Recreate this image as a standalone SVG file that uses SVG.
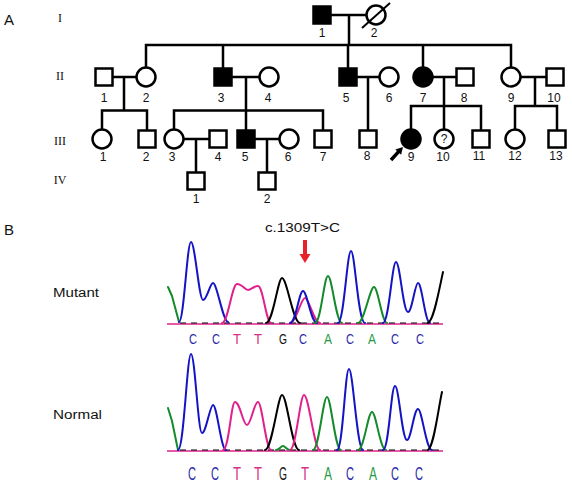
<svg xmlns="http://www.w3.org/2000/svg" width="572" height="485" viewBox="0 0 572 485">
<style>
.ln{stroke:#000;stroke-width:2.5;fill:none;stroke-linecap:square}
.o{fill:#fff;stroke:#000;stroke-width:2.5}
.f{fill:#000;stroke:#000;stroke-width:2.5}
.num{font-family:"Liberation Sans",Arial,sans-serif;font-size:12px;text-anchor:middle;fill:#111}
.rom{font-family:"Liberation Serif","Times New Roman",serif;font-size:12px;text-anchor:middle;fill:#111}
.lab{font-family:"Liberation Sans",Arial,sans-serif;font-size:15px;fill:#111}
.txt{font-family:"Liberation Sans",Arial,sans-serif;font-size:12px;fill:#111}
.tr{fill:none;stroke-width:2;stroke-linejoin:round;stroke-linecap:round}
.bl{stroke:#1414c4}.gr{stroke:#148a2a}.pk{stroke:#e0208c}.bk{stroke:#000}
.bs{font-family:"Liberation Sans",Arial,sans-serif;text-anchor:middle}
.cB{fill:#2a2aaa}.cT{fill:#d83088}.cG{fill:#111}.cA{fill:#1f9a44}
</style>

<text class="lab" x="4" y="25">A</text>
<text class="lab" x="4" y="235">B</text>
<text class="rom" x="60" y="22">I</text>
<text class="rom" x="60" y="80">II</text>
<text class="rom" x="60" y="145">III</text>
<text class="rom" x="60" y="184">IV</text>

<g id="connectors">
<path class="ln" d="M330.5 15H366.5M349 15V45M146 45H511M146 45V67.5M223 45V68.5M348 45V68.5M423 45V67.5M511 45V67.5"/>
<path class="ln" d="M112.5 77H136.5M124 77V110.5M102 110.5H147M102 110.5V129.5M147 110.5V130.5"/>
<path class="ln" d="M231.5 77H259.5M246 77V110.5M174 110.5H323M174 110.5V129.5M246 110.5V130.5M323 110.5V130.5"/>
<path class="ln" d="M356.5 77H379.5M368 77V130.5"/>
<path class="ln" d="M432.5 77H456.5M444 77V106M411 106H481M411 106V129.5M444 106V129.5M481 106V130.5"/>
<path class="ln" d="M520.5 77H546.5M535 77V106M515 106H557M515 106V129.5M557 106V130.5"/>
<path class="ln" d="M183.5 139H209.5M196 139V172.5M254.5 139H279.5M267 139V172.5"/>
</g>

<g id="I-1"><rect class="f" x="313.5" y="6.5" width="17" height="17"/><text class="num" x="322" y="37">1</text></g>
<g id="I-2"><circle class="o" cx="376" cy="15" r="9.5"/><line x1="362" y1="28" x2="390" y2="3" stroke="#000" stroke-width="2"/><text class="num" x="374" y="37">2</text></g>

<g id="II-1"><rect class="o" x="95.5" y="68.5" width="17" height="17"/><text class="num" x="104" y="102">1</text></g>
<g id="II-2"><circle class="o" cx="146" cy="77" r="9.5"/><text class="num" x="146" y="102">2</text></g>
<g id="II-3"><rect class="f" x="214.5" y="68.5" width="17" height="17"/><text class="num" x="221" y="102">3</text></g>
<g id="II-4"><circle class="o" cx="269" cy="77" r="9.5"/><text class="num" x="268" y="102">4</text></g>
<g id="II-5"><rect class="f" x="339.5" y="68.5" width="17" height="17"/><text class="num" x="346" y="102">5</text></g>
<g id="II-6"><circle class="o" cx="389" cy="77" r="9.5"/><text class="num" x="389" y="102">6</text></g>
<g id="II-7"><circle class="f" cx="423" cy="77" r="9.5"/><text class="num" x="423" y="102">7</text></g>
<g id="II-8"><rect class="o" x="456.5" y="68.5" width="17" height="17"/><text class="num" x="464" y="102">8</text></g>
<g id="II-9"><circle class="o" cx="511" cy="77" r="9.5"/><text class="num" x="511" y="102">9</text></g>
<g id="II-10"><rect class="o" x="546.5" y="68.5" width="17" height="17"/><text class="num" x="554" y="102">10</text></g>

<g id="III-1"><circle class="o" cx="102" cy="139" r="9.5"/><text class="num" x="103" y="161">1</text></g>
<g id="III-2"><rect class="o" x="138.5" y="130.5" width="17" height="17"/><text class="num" x="146" y="161">2</text></g>
<g id="III-3"><circle class="o" cx="174" cy="139" r="9.5"/><text class="num" x="172" y="161">3</text></g>
<g id="III-4"><rect class="o" x="209.5" y="130.5" width="17" height="17"/><text class="num" x="218" y="161">4</text></g>
<g id="III-5"><rect class="f" x="237.5" y="130.5" width="17" height="17"/><text class="num" x="245" y="161">5</text></g>
<g id="III-6"><circle class="o" cx="289" cy="139" r="9.5"/><text class="num" x="288" y="161">6</text></g>
<g id="III-7"><rect class="o" x="314.5" y="130.5" width="17" height="17"/><text class="num" x="323" y="161">7</text></g>
<g id="III-8"><rect class="o" x="359.5" y="130.5" width="17" height="17"/><text class="num" x="367" y="160">8</text></g>
<g id="III-9"><circle class="f" cx="411" cy="139" r="9.5"/><text class="num" x="411" y="161">9</text>
<polygon points="403,147 401.1,154.8 399.5,153.3 392.3,161.2 389.7,158.8 396.9,150.9 395.3,149.4" fill="#000"/></g>
<g id="III-10"><circle class="o" cx="444" cy="139" r="9.5"/><text class="num" x="444" y="143" font-size="11">?</text><text class="num" x="443" y="161">10</text></g>
<g id="III-11"><rect class="o" x="472.5" y="130.5" width="17" height="17"/><text class="num" x="479" y="160">11</text></g>
<g id="III-12"><circle class="o" cx="515" cy="139" r="9.5"/><text class="num" x="515" y="160">12</text></g>
<g id="III-13"><rect class="o" x="548.5" y="130.5" width="17" height="17"/><text class="num" x="556" y="160">13</text></g>

<g id="IV-1"><rect class="o" x="187.5" y="172.5" width="17" height="17"/><text class="num" x="196" y="203">1</text></g>
<g id="IV-2"><rect class="o" x="258.5" y="172.5" width="17" height="17"/><text class="num" x="267" y="203">2</text></g>

<text class="txt" x="265" y="232" textLength="75" lengthAdjust="spacingAndGlyphs">c.1309T&gt;C</text>
<path d="M303 240H307V254H310.5L305 263L299.5 254H303Z" fill="#e8202a"/>

<text class="txt" x="53" y="297" font-size="12.5" textLength="46" lengthAdjust="spacingAndGlyphs">Mutant</text>
<text class="txt" x="53" y="419" font-size="13" textLength="49" lengthAdjust="spacingAndGlyphs">Normal</text>

<g id="mutant-trace">
<line x1="167" y1="324" x2="443" y2="324" stroke="#e0208c" stroke-width="1.6"/>
<line x1="180" y1="323" x2="440" y2="323" stroke="#000" stroke-width="1" stroke-dasharray="6 5"/>
<path class="tr gr" d="M168 287L172 296L179 322"/>
<path class="tr bl" d="M179 322C184 322 187 242 191 242C195 242 199 300 203 300C207 300 210 283 213 283C217 283 223 322 228 322"/>
<path class="tr pk" d="M222 323C228 323 232 284 237 284C242 284 245 290 248 290C251 290 254 286 258 286C263 286 266 322 271 323"/>
<path class="tr pk" d="M290 323C296 323 301 298 305 298C309 298 314 323 320 323"/>
<path class="tr bk" d="M266 323C273 323 278 278 282 278C287 278 293 323 300 323"/>
<path class="tr bl" d="M290 323C296 323 299 291 303 291C307 291 311 323 317 323"/>
<path class="tr gr" d="M315 323C321 323 324 276 328 276C332 276 336 323 342 323"/>
<path class="tr bl" d="M338 323C344 323 347 251 351 251C355 251 358 323 365 323"/>
<path class="tr gr" d="M358 323C364 323 370 287 374 287C378 287 382 323 387 323"/>
<path class="tr bl" d="M383 323C389 323 392 262 396 262C400 262 403 312 408 312C412 312 415 283 418 283C422 283 425 323 430 323"/>
<path class="tr bk" d="M428 323C434 320 439 290 443 272"/>
</g>
<g id="mutant-bases" class="bs" font-size="15">
<text class="cB" x="193" y="344" textLength="8" lengthAdjust="spacingAndGlyphs">C</text>
<text class="cB" x="216" y="344" textLength="8" lengthAdjust="spacingAndGlyphs">C</text>
<text class="cT" x="237" y="344" textLength="8" lengthAdjust="spacingAndGlyphs">T</text>
<text class="cT" x="258" y="344" textLength="8" lengthAdjust="spacingAndGlyphs">T</text>
<text class="cG" x="283" y="344" textLength="8" lengthAdjust="spacingAndGlyphs">G</text>
<text class="cB" x="303" y="344" textLength="8" lengthAdjust="spacingAndGlyphs">C</text>
<text class="cA" x="328" y="344" textLength="8" lengthAdjust="spacingAndGlyphs">A</text>
<text class="cB" x="350" y="344" textLength="8" lengthAdjust="spacingAndGlyphs">C</text>
<text class="cA" x="372" y="344" textLength="8" lengthAdjust="spacingAndGlyphs">A</text>
<text class="cB" x="395" y="344" textLength="8" lengthAdjust="spacingAndGlyphs">C</text>
<text class="cB" x="420" y="344" textLength="8" lengthAdjust="spacingAndGlyphs">C</text>
</g>

<g id="normal-trace">
<line x1="167" y1="451" x2="443" y2="451" stroke="#e0208c" stroke-width="1.6"/>
<line x1="180" y1="450" x2="440" y2="450" stroke="#000" stroke-width="1" stroke-dasharray="6 5"/>
<path class="tr gr" d="M168 408L172 421L178 450"/>
<path class="tr bl" d="M178 450C184 450 187 354 191 354C195 354 198 433 202 433C206 433 210 405 213 405C217 405 221 450 226 450"/>
<path class="tr pk" d="M223 450C229 450 231 402 235 402C240 402 243 425 247 425C251 425 254 402 258 402C262 402 266 450 271 450"/>
<path class="tr bk" d="M265 450C272 450 278 395 282 395C287 395 292 450 299 450"/>
<path class="tr gr" d="M276 450C279 450 281 446 283 446C285 446 287 450 290 450"/>
<path class="tr pk" d="M290 450C296 450 300 395 304 395C309 395 314 450 320 450"/>
<path class="tr gr" d="M313 450C319 450 323 397 327 397C331 397 335 450 341 450"/>
<path class="tr bl" d="M337 450C343 450 345 369 349 369C353 369 357 450 363 450"/>
<path class="tr gr" d="M358 450C364 450 368 412 372 412C376 412 380 450 386 450"/>
<path class="tr bl" d="M383 450C389 450 391 386 395 386C399 386 402 440 407 440C411 440 414 409 418 409C422 409 426 450 432 450"/>
<path class="tr bk" d="M428 450C434 446 438 410 442 392"/>
</g>
<g id="normal-bases" class="bs" font-size="19">
<text class="cB" x="192" y="480" textLength="8" lengthAdjust="spacingAndGlyphs">C</text>
<text class="cB" x="215" y="480" textLength="8" lengthAdjust="spacingAndGlyphs">C</text>
<text class="cT" x="237" y="480" textLength="8" lengthAdjust="spacingAndGlyphs">T</text>
<text class="cT" x="258" y="480" textLength="8" lengthAdjust="spacingAndGlyphs">T</text>
<text class="cG" x="283" y="480" textLength="8" lengthAdjust="spacingAndGlyphs">G</text>
<text class="cT" x="305" y="480" textLength="8" lengthAdjust="spacingAndGlyphs">T</text>
<text class="cA" x="328" y="480" textLength="8" lengthAdjust="spacingAndGlyphs">A</text>
<text class="cB" x="350" y="480" textLength="8" lengthAdjust="spacingAndGlyphs">C</text>
<text class="cA" x="373" y="480" textLength="8" lengthAdjust="spacingAndGlyphs">A</text>
<text class="cB" x="395" y="480" textLength="8" lengthAdjust="spacingAndGlyphs">C</text>
<text class="cB" x="419" y="480" textLength="8" lengthAdjust="spacingAndGlyphs">C</text>
</g>
</svg>
